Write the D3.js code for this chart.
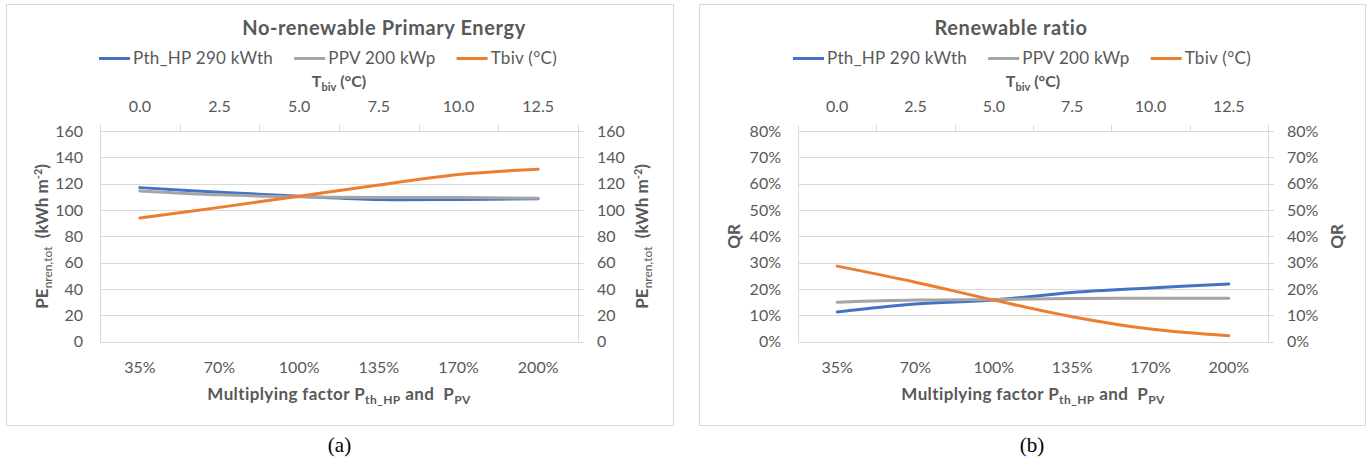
<!DOCTYPE html>
<html>
<head>
<meta charset="utf-8">
<script src="https://cdn.jsdelivr.net/npm/d3@7"></script>
<style>
  body { margin: 0; background: #fff; }
  svg { display: block; }
  text { font-family: Lato, "Open Sans", sans-serif; fill: #595959; white-space: pre; }
</style>
</head>
<body>
<svg id="chart" width="1371" height="463"></svg>
<script>
// categories on both horizontal axes
var factors = ["35%", "70%", "100%", "135%", "170%", "200%"],
    tbivLabels = ["0.0", "2.5", "5.0", "7.5", "10.0", "12.5"];

// series names
var seriesNames = ["Pth_HP 290 kWth", "PPV 200 kWp", "Tbiv (°C)"];

// (a) no-renewable primary energy, kWh m-2
var peHP   = [117, 113.5, 110.5, 108, 108, 108.5],
    pePV   = [114.5, 111.5, 110, 109.5, 109.5, 109],
    peTbiv = [94, 102, 110.5, 119, 127, 131];

// (b) renewable ratio, %
var qrHP   = [11.3, 14.3, 15.8, 18.7, 20.4, 21.9],
    qrPV   = [15.0, 15.8, 16.0, 16.4, 16.5, 16.5],
    qrTbiv = [28.7, 22.6, 15.8, 9.5, 4.8, 2.3];

var peTicks = d3.range(0, 161, 20),
    qrTicks = d3.range(0, 81, 10);

var colors = ["#4472C4", "#A5A5A5", "#ED7D31"];

var svg = d3.select("#chart");

var panels = [
  { box: [6, 4, 673, 425], plot: {left: 100, right: 578, top: 131, bottom: 341.7},
    title: "No-renewable Primary Energy", titleX: 384, legendX: 328,
    series: [peHP, pePV, peTbiv], domain: [0, 160], ticks: peTicks,
    fmt: function(d) { return d; }, yTitle: "pe", caption: "(a)",
    yTitleX: [48, 648] },
  { box: [699, 4, 1365, 425], plot: {left: 798, right: 1268, top: 131, bottom: 341.7},
    title: "Renewable ratio", titleX: 1011, legendX: 1022,
    series: [qrHP, qrPV, qrTbiv], domain: [0, 80], ticks: qrTicks,
    fmt: function(d) { return d + "%"; }, yTitle: "qr", caption: "(b)",
    yTitleX: [740, 1343] }
];

panels.forEach(drawPanel);

function drawPanel(p) {
  var g = svg.append("g");
  var pl = p.plot, cx = (pl.left + pl.right) / 2, cy = (pl.top + pl.bottom) / 2;

  g.append("rect")
    .attr("x", p.box[0] + 0.5).attr("y", p.box[1] + 0.5)
    .attr("width", p.box[2] - p.box[0]).attr("height", p.box[3] - p.box[1])
    .attr("fill", "none").attr("stroke", "#d9d9d9");

  var x = d3.scaleBand().domain(factors).range([pl.left, pl.right]),
      x2 = d3.scaleBand().domain(tbivLabels).range([pl.left, pl.right]),
      y = d3.scaleLinear().domain(p.domain).range([pl.bottom, pl.top]);

  // gridlines
  g.selectAll(".grid").data(p.ticks).join("line")
    .attr("x1", pl.left).attr("x2", pl.right)
    .attr("y1", function(d) { return Math.round(y(d)) + 0.5; })
    .attr("y2", function(d) { return Math.round(y(d)) + 0.5; })
    .attr("stroke", "#d9d9d9").attr("stroke-width", 1);

  // left / right axis lines
  [pl.left, pl.right].forEach(function(xx) {
    g.append("line").attr("x1", Math.round(xx) + 0.5).attr("x2", Math.round(xx) + 0.5)
      .attr("y1", pl.top).attr("y2", pl.bottom).attr("stroke", "#d9d9d9");
  });

  // right axis ticks (outward)
  g.selectAll(".rtick").data(p.ticks).join("line")
    .attr("x1", pl.right).attr("x2", pl.right + 6)
    .attr("y1", function(d) { return Math.round(y(d)) + 0.5; })
    .attr("y2", function(d) { return Math.round(y(d)) + 0.5; })
    .attr("stroke", "#d9d9d9");

  // top axis ticks at category boundaries
  var bounds = tbivLabels.map(function(d) { return x2(d); }).concat([pl.right]);
  g.selectAll(".ttick").data(bounds).join("line")
    .attr("x1", function(d) { return Math.round(d) + 0.5; })
    .attr("x2", function(d) { return Math.round(d) + 0.5; })
    .attr("y1", pl.top).attr("y2", pl.top - 6)
    .attr("stroke", "#d9d9d9");

  // tick labels
  g.selectAll(".ly").data(p.ticks).join("text")
    .attr("x", pl.left - 17).attr("y", function(d) { return y(d); })
    .attr("dy", "0.36em").attr("text-anchor", "end")
    .style("font-size", "16px").text(p.fmt);
  g.selectAll(".ry").data(p.ticks).join("text")
    .attr("x", pl.right + 19).attr("y", function(d) { return y(d); })
    .attr("dy", "0.36em").attr("text-anchor", "start")
    .style("font-size", "16px").text(p.fmt);
  g.selectAll(".bx").data(factors).join("text")
    .attr("x", function(d) { return x(d) + x.bandwidth() / 2; }).attr("y", 373)
    .attr("text-anchor", "middle").style("font-size", "16px").text(function(d) { return d; });
  g.selectAll(".tx").data(tbivLabels).join("text")
    .attr("x", function(d) { return x2(d) + x2.bandwidth() / 2; }).attr("y", 112)
    .attr("text-anchor", "middle").style("font-size", "16px").text(function(d) { return d; });

  // series
  var line = d3.line()
    .x(function(d, i) { return x(factors[i]) + x.bandwidth() / 2; })
    .y(function(d) { return y(d); })
    .curve(d3.curveCatmullRom.alpha(0.5));
  p.series.forEach(function(s, i) {
    g.append("path").datum(s).attr("d", line)
      .attr("fill", "none").attr("stroke", colors[i])
      .attr("stroke-width", 3).attr("stroke-linecap", "round");
  });

  // title
  g.append("text").attr("x", p.titleX).attr("y", 35).attr("text-anchor", "middle")
    .style("font-size", "20px").style("font-weight", "bold")
    .style("letter-spacing", "0.6px").text(p.title);

  // legend
  var lg = g.append("g");
  var xpos = 0;
  seriesNames.forEach(function(name, i) {
    lg.append("line").attr("x1", xpos).attr("x2", xpos + 31)
      .attr("y1", 58.5).attr("y2", 58.5)
      .attr("stroke", colors[i]).attr("stroke-width", 3);
    var t = lg.append("text").attr("x", xpos + 34).attr("y", 64)
      .style("font-size", "17px").style("letter-spacing", "0.3px").text(name);
    xpos += 34 + t.node().getComputedTextLength() + (i < 2 ? 21 : 0);
  });
  lg.attr("transform", "translate(" + (p.legendX - xpos / 2) + ",0)");

  // top axis title
  var tt = g.append("text").attr("x", cx).attr("y", 87).attr("text-anchor", "middle")
    .style("font-size", "16px").style("font-weight", "bold");
  tt.append("tspan").text("T");
  tt.append("tspan").attr("dy", 4).style("font-size", "11px").text("biv");
  tt.append("tspan").attr("dy", -4).text(" (°C)");

  // bottom axis title
  var bt = g.append("text").attr("x", cx).attr("y", 400).attr("text-anchor", "middle")
    .style("font-size", "17px").style("font-weight", "bold").style("letter-spacing", "0.4px");
  bt.append("tspan").text("Multiplying factor P");
  bt.append("tspan").attr("dy", 4).style("font-size", "12px").text("th_HP");
  bt.append("tspan").attr("dy", -4).text(" and  P");
  bt.append("tspan").attr("dy", 4).style("font-size", "12px").text("PV");

  // vertical axis titles
  p.yTitleX.forEach(function(xx) {
    var vt = g.append("text")
      .attr("transform", "translate(" + xx + "," + cy + ") rotate(-90)")
      .attr("text-anchor", "middle")
      .style("font-size", "17px").style("font-weight", "bold");
    if (p.yTitle === "pe") {
      vt.append("tspan").text("PE");
      vt.append("tspan").attr("dy", 4).style("font-size", "12px").style("font-weight", "normal").text("nren,tot");
      vt.append("tspan").attr("dy", -4).text("  (kWh m");
      vt.append("tspan").attr("dy", -6).style("font-size", "11px").text("-2");
      vt.append("tspan").attr("dy", 6).text(")");
    } else {
      vt.text("QR");
    }
  });

  // caption
  g.append("text").attr("x", (p.box[0] + p.box[2]) / 2).attr("y", 452)
    .attr("text-anchor", "middle")
    .style("font-family", "'Liberation Serif', 'Times New Roman', serif")
    .style("font-size", "21px").style("fill", "#000").text(p.caption);
}
</script>
</body>
</html>
